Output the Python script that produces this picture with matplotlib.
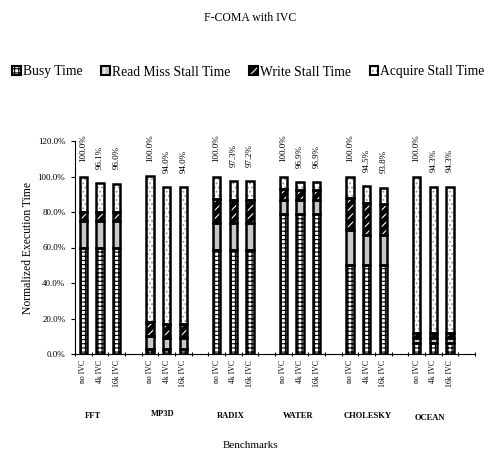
import matplotlib
matplotlib.use("Agg")
import matplotlib.pyplot as plt
from matplotlib.patches import Patch
from matplotlib.ticker import FixedLocator

plt.rcParams['font.family'] = ['Liberation Serif', 'DejaVu Serif']
plt.rcParams['hatch.linewidth'] = 0.8

benchmarks = ["FFT", "MP3D", "RADIX", "WATER", "CHOLESKY", "OCEAN"]
configs = ["no IVC", "4k IVC", "16k IVC"]

busy = [[60, 60, 60], [3, 3, 3], [58.4, 58.4, 58.4], [79, 79, 79], [50, 50, 50], [6, 6, 6]]
read_miss = [[15, 15, 15], [7, 6, 6], [15.4, 15.4, 15.4], [7.5, 7.5, 7.5], [19.7, 17, 17], [3, 3, 3]]
write_stall = [[5, 5, 5], [8, 8, 8], [13.5, 13, 13], [6.5, 6, 6], [18, 18, 17.6], [3, 3, 3]]
acquire = [[20, 16.1, 16.0], [82, 77, 77], [12.7, 10.5, 10.4], [7, 4.4, 4.4], [12.3, 9.5, 9.2], [88, 82.3, 82.3]]
value_labels = [["100.0%", "96.1%", "96.0%"], ["100.0%", "94.0%", "94.0%"], ["100.0%", "97.3%", "97.2%"],
                ["100.0%", "96.9%", "96.9%"], ["100.0%", "94.5%", "93.8%"], ["100.0%", "94.3%", "94.3%"]]

series_names = ["Busy Time", "Read Miss Stall Time", "Write Stall Time", "Acquire Stall Time"]
series_data = [busy, read_miss, write_stall, acquire]
styles = [
    dict(facecolor="white", edgecolor="black", hatch="++++"),
    dict(facecolor="#c8c8c8", edgecolor="white", hatch="||"),
    dict(facecolor="black", edgecolor="white", hatch="////"),
    dict(facecolor="white", edgecolor="#999999", hatch="...."),
]

W, H = 492, 449
fig = plt.figure(figsize=(W / 100, H / 100), dpi=100)
ax = fig.add_axes([75 / W, 1 - 354 / H, 400 / W, (354 - 141) / H])

width = 0.44
positions = []
for g in range(len(benchmarks)):
    for j in range(len(configs)):
        x = g * 4 + j + 0.5
        positions.append(x)
        bottom = 0
        for s, data in enumerate(series_data):
            v = data[g][j]
            ax.bar(x, v, width, bottom=bottom, linewidth=0, **styles[s], zorder=2)
            ax.bar(x, v, width, bottom=bottom, facecolor="none", edgecolor="black", linewidth=1.8, zorder=3)
            bottom += v
        ax.text(x, bottom + 8, value_labels[g][j], rotation=90, ha="center", va="bottom",
                fontsize=6.5, clip_on=False)

ax.set_xlim(0, 24)
ax.set_ylim(0, 120)
ax.set_yticks(range(0, 121, 20))
ax.set_yticklabels([f"{v:.1f}%" for v in range(0, 121, 20)], fontsize=6.5)
ax.set_xticks(positions)
ax.set_xticklabels(configs * len(benchmarks), rotation=90, fontsize=5.6, va="top")
ax.tick_params(axis="x", length=0, pad=4)
ax.xaxis.set_minor_locator(FixedLocator(range(0, 25)))
ax.tick_params(axis="x", which="minor", length=3, direction="inout", width=0.8)
ax.tick_params(axis="y", length=3, direction="out", width=0.8, pad=4)
for sp in ["top", "right"]:
    ax.spines[sp].set_visible(False)
for sp in ["left", "bottom"]:
    ax.spines[sp].set_linewidth(0.8)

fig.text(28 / W, 1 - 247.5 / H, "Normalized Execution Time", rotation=90, ha="center", va="center",
         fontsize=8.4)

group_x = [1.08, 5.26, 9.36, 13.36, 17.58, 21.3]
group_y = [416, 414, 416, 416, 416, 418]
for name, gx, gy in zip(benchmarks, group_x, group_y):
    fig.text((75 + gx * 400 / 24) / W, 1 - gy / H, name, ha="center", va="center",
             fontsize=6.1, fontweight="bold")

fig.text(250 / W, 1 - 446 / H, "Benchmarks", ha="center", va="center", fontsize=8)
fig.text(250 / W, 1 - 18 / H, "F-COMA with IVC", ha="center", va="center", fontsize=8.5)

handles = []
for s in range(4):
    handles.append((Patch(linewidth=0, **styles[s]),
                    Patch(facecolor="none", edgecolor="black", linewidth=1.5)))
fig.legend(handles, series_names, loc="center", bbox_to_anchor=(248.5 / W, 1 - 72 / H), ncol=4,
           frameon=False, fontsize=9.8, handlelength=0.65, handleheight=0.65, handletextpad=0.15,
           columnspacing=1.37)

fig.savefig("out.png", dpi=100)
